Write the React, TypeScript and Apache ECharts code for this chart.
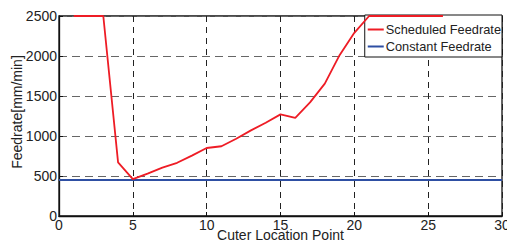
import React, { useEffect, useRef } from "react";
import * as echarts from "echarts";

const xPoints = [1, 2, 3, 4, 5, 6, 7, 8, 9, 10, 11, 12, 13, 14, 15, 16, 17, 18, 19, 20, 21, 22, 23, 24, 25, 26];
const scheduled = [2500, 2500, 2500, 670, 460, 530, 605, 665, 755, 850, 872, 965, 1070, 1165, 1270, 1228, 1420, 1655, 2010, 2290, 2500, 2500, 2500, 2500, 2500, 2500];
const constantX = [0, 30];
const constantValue = 450;

export default function App() {
  const ref = useRef<HTMLDivElement>(null);
  useEffect(() => {
    const chart = echarts.init(ref.current!, null, { renderer: "svg" });
    const font = "Liberation Sans, Arial, sans-serif";
    chart.setOption({
      animation: false,
      backgroundColor: "#fff",
      grid: {
        left: 59, top: 16, right: 5, bottom: 27,
        containLabel: false,
        outerBoundsMode: "none",
        show: true, borderColor: "#111", borderWidth: 1.3, backgroundColor: "transparent",
      },
      legend: {
        right: 5,
        top: 15,
        orient: "vertical",
        backgroundColor: "#fff",
        borderColor: "#111",
        borderWidth: 1,
        borderRadius: 0,
        padding: [7, 1, 3, 3],
        itemGap: 2,
        itemWidth: 16,
        itemHeight: 2,
        icon: "rect",
        textStyle: { fontFamily: font, fontSize: 12.8, color: "#222", lineHeight: 15, padding: [0, 0, 0, -3] },
        data: ["Scheduled Feedrate", "Constant Feedrate"],
      },
      xAxis: {
        type: "value",
        min: 0,
        max: 30,
        interval: 5,
        name: "Cuter Location Point",
        nameLocation: "middle",
        nameGap: 12,
        nameMoveOverlap: false,
        nameTextStyle: { fontFamily: font, fontSize: 14, color: "#222" },
        axisLine: { lineStyle: { color: "#111", width: 1.3 } },
        axisTick: { inside: true, length: 4, lineStyle: { color: "#111" } },
        axisLabel: { fontFamily: font, fontSize: 14, color: "#222", margin: 2 },
        splitLine: { show: true, lineStyle: { type: [6, 5], color: "#222", width: 1 } },
      },
      yAxis: {
        type: "value",
        min: 0,
        max: 2500,
        interval: 500,
        name: "Feedrate[mm/min]",
        nameLocation: "middle",
        nameGap: 35,
        nameMoveOverlap: false,
        nameTextStyle: { fontFamily: font, fontSize: 14, color: "#222", padding: [0, 0, 0, 8] },
        axisLine: { show: true, lineStyle: { color: "#111", width: 1.3 } },
        axisTick: { show: true, inside: true, length: 4, lineStyle: { color: "#111" } },
        axisLabel: { fontFamily: font, fontSize: 14, color: "#222", margin: 2, formatter: (v: number) => String(v) },
        splitLine: { show: true, lineStyle: { type: [8, 5], color: "#666", width: 1 } },
      },
      series: [
        {
          name: "Scheduled Feedrate",
          type: "line",
          data: xPoints.map((x, i) => [x, scheduled[i]]),
          showSymbol: false,
          symbol: "none",
          clip: false,
          lineStyle: { color: "#ee1c25", width: 1.8 },
          itemStyle: { color: "#ee1c25" },
          z: 6,
        },
        {
          name: "Constant Feedrate",
          type: "line",
          data: constantX.map((x) => [x, constantValue]),
          showSymbol: false,
          symbol: "none",
          lineStyle: { color: "#2e4fa3", width: 1.8 },
          itemStyle: { color: "#2e4fa3" },
          z: 2,
        },
      ],
    });
    return () => chart.dispose();
  }, []);
  return <div ref={ref} style={{ width: 507, height: 243, position: "fixed", left: 0, top: 0 }} />;
}
